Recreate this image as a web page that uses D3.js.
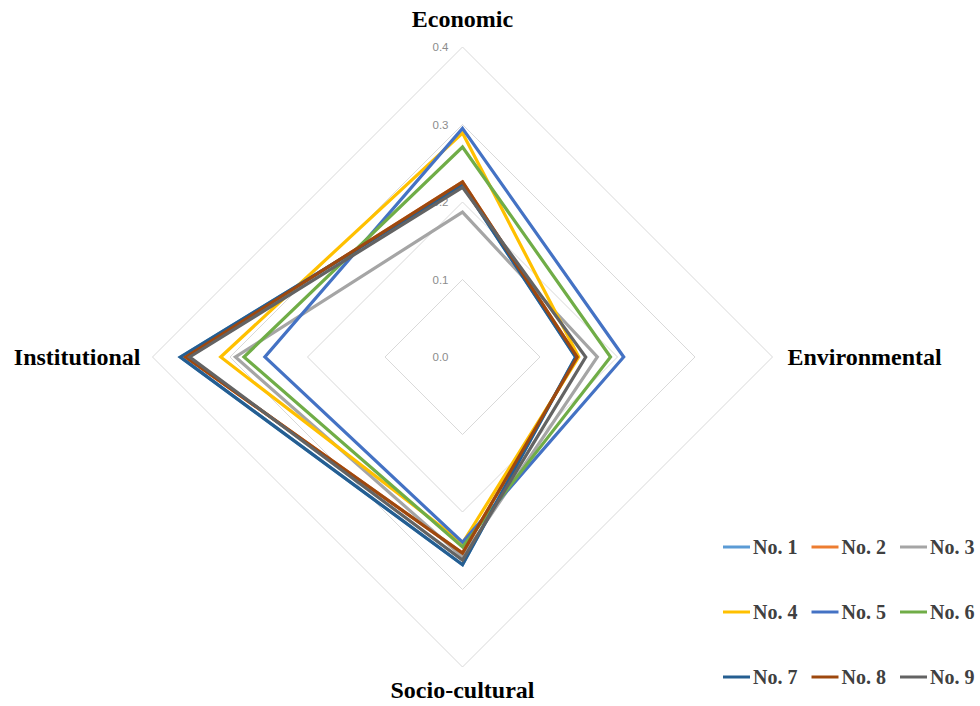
<!DOCTYPE html>
<html>
<head>
<meta charset="utf-8">
<script src="https://cdn.jsdelivr.net/npm/d3@7"></script>
<style>
  html, body { margin: 0; padding: 0; background: #fff; }
  svg { display: block; }
</style>
</head>
<body>
<svg id="chart" width="980" height="706"></svg>
<script>
// Dimensions of the radar, clockwise from the top
const dimensions = ["Economic", "Environmental", "Socio-cultural", "Institutional"];

// Ring values and their labels
const ringTicks = [0.1, 0.2, 0.3, 0.4];
const tickLabels = ["0.0", "0.1", "0.2", "0.3", "0.4"];

// Series names and colours
const seriesNames = ["No. 1", "No. 2", "No. 3", "No. 4", "No. 5", "No. 6", "No. 7", "No. 8", "No. 9"];
const seriesColors = ["#5B9BD5", "#ED7D31", "#A5A5A5", "#FFC000", "#4472C4", "#70AD47", "#255E91", "#9E480E", "#636363"];

// Scores per series: Economic, Environmental, Socio-cultural, Institutional
const no1 = [0.222, 0.146, 0.268, 0.364];
const no2 = [0.226, 0.148, 0.253, 0.357];
const no3 = [0.187, 0.174, 0.258, 0.293];
const no4 = [0.289, 0.150, 0.240, 0.312];
const no5 = [0.295, 0.208, 0.239, 0.255];
const no6 = [0.271, 0.191, 0.245, 0.282];
const no7 = [0.222, 0.146, 0.268, 0.364];
const no8 = [0.226, 0.148, 0.253, 0.357];
const no9 = [0.219, 0.159, 0.262, 0.352];
const seriesValues = [no1, no2, no3, no4, no5, no6, no7, no8, no9];

const svg = d3.select("#chart");
const cx = 462.5, cy = 357;
const r = d3.scaleLinear().domain([0, 0.4]).range([0, 310]);

// angle for each axis: top, right, bottom, left
const angle = d3.scaleLinear().domain([0, dimensions.length]).range([0, 2 * Math.PI]);
const pt = (i, v) => [cx + r(v) * Math.sin(angle(i)), cy - r(v) * Math.cos(angle(i))];

const g = svg.append("g");

// grid rings
const ringLine = d3.line().curve(d3.curveLinearClosed);
g.selectAll("path.ring")
  .data(ringTicks)
  .join("path")
  .attr("class", "ring")
  .attr("d", t => ringLine(dimensions.map((d, i) => pt(i, t))))
  .attr("fill", "none")
  .attr("stroke", "#D9D9D9")
  .attr("stroke-width", 1);

// ring value labels along the top axis
g.selectAll("text.tick")
  .data(tickLabels)
  .join("text")
  .attr("class", "tick")
  .attr("x", cx - 14)
  .attr("y", d => cy - r(+d) + 4)
  .attr("text-anchor", "end")
  .attr("font-family", "Liberation Sans, Arial, sans-serif")
  .attr("font-size", 11.5)
  .attr("fill", "#8c8c8c")
  .text(d => d);

// series polygons
const seriesLine = d3.line().curve(d3.curveLinearClosed);
g.selectAll("path.series")
  .data(seriesValues)
  .join("path")
  .attr("class", "series")
  .attr("d", vals => seriesLine(vals.map((v, i) => pt(i, v))))
  .attr("fill", "none")
  .attr("stroke", (d, i) => seriesColors[i])
  .attr("stroke-width", 3.2)
  .attr("stroke-linejoin", "miter");

// axis titles
const labelFont = "Liberation Serif, Times New Roman, serif";
const titlePos = [
  { x: cx, y: 27, anchor: "middle" },
  { x: cx + r(0.4) + 15, y: 365, anchor: "start" },
  { x: cx, y: 698, anchor: "middle" },
  { x: cx - r(0.4) - 12, y: 365, anchor: "end" }
];
g.selectAll("text.dim")
  .data(dimensions)
  .join("text")
  .attr("class", "dim")
  .attr("x", (d, i) => titlePos[i].x)
  .attr("y", (d, i) => titlePos[i].y)
  .attr("text-anchor", (d, i) => titlePos[i].anchor)
  .attr("font-family", labelFont)
  .attr("font-weight", "bold")
  .attr("font-size", 24)
  .attr("fill", "#000")
  .text(d => d);

// legend: three rows of three
const legend = svg.append("g");
const items = legend.selectAll("g.item")
  .data(seriesNames)
  .join("g")
  .attr("class", "item")
  .attr("transform", (d, i) => `translate(${723 + (i % 3) * 88.5},${547 + Math.floor(i / 3) * 65})`);
items.append("line")
  .attr("x1", 0).attr("x2", 27)
  .attr("y1", 0).attr("y2", 0)
  .attr("stroke", (d, i) => seriesColors[i])
  .attr("stroke-width", 3);
items.append("text")
  .attr("x", 30)
  .attr("y", 7)
  .attr("font-family", labelFont)
  .attr("font-weight", "bold")
  .attr("font-size", 20)
  .attr("fill", "#404040")
  .text(d => d);
</script>
</body>
</html>
